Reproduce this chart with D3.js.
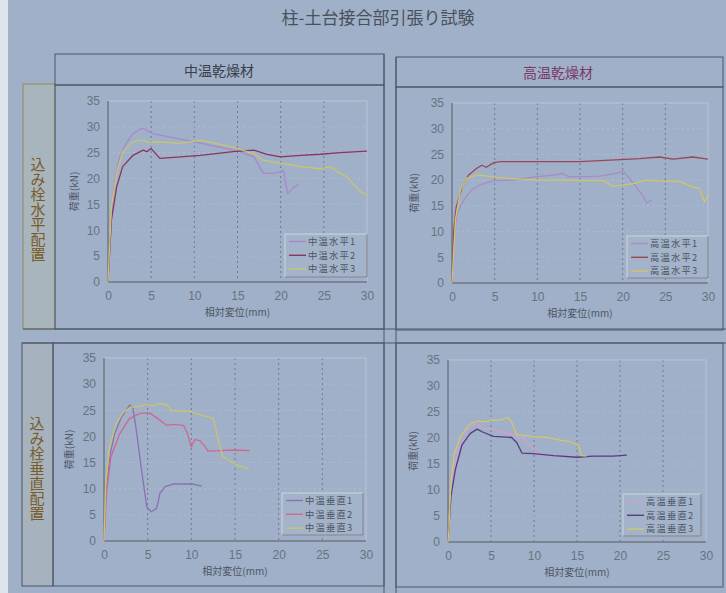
<!DOCTYPE html>
<html><head><meta charset="utf-8">
<script src="https://cdn.jsdelivr.net/npm/d3@7"></script>
<style>body{margin:0;background:#9fb0c8;overflow:hidden}</style>
</head><body><svg id="c" width="726" height="593"></svg>
<script>
// ---------- data ----------
const title = "柱-土台接合部引張り試験";
const colHeaders = ["中温乾燥材", "高温乾燥材"];
const rowHeaders = ["込み栓水平配置", "込み栓垂直配置"];
const xTicks = [0, 5, 10, 15, 20, 25, 30];
const yTicks = [0, 5, 10, 15, 20, 25, 30, 35];
const xLabel = "相対変位(mm)";
const yLabel = "荷重(kN)";

const labelsTL = ["中温水平1", "中温水平2", "中温水平3"];
const labelsTR = ["高温水平1", "高温水平2", "高温水平3"];
const labelsBL = ["中温垂直1", "中温垂直2", "中温垂直3"];
const labelsBR = ["高温垂直1", "高温垂直2", "高温垂直3"];

// 中温水平
const tl1 = [[0,0],[0.4,13],[0.8,19.7],[1.36,24.2],[2.1,26.8],[2.9,28.7],[3.7,29.5],[4.07,29.7],[5.2,28.7],[10,27.1],[15.1,25.3],[16.9,24.2],[18,21],[19.6,21.1],[20.3,21.6],[20.8,17.1],[21.3,18],[22.1,18.9]];
const tl2 = [[0,0],[0.4,12],[1,18.4],[1.7,22.3],[2.9,24.5],[4.07,25.5],[4.5,25.2],[5,25.8],[6,23.9],[7.6,24.1],[10.7,24.5],[14.5,25.2],[16.9,25.5],[18.4,24.7],[20,24.2],[22.3,24.5],[24.6,24.7],[26.9,25],[30,25.3]];
const tl3 = [[0,0],[0.4,14.5],[1,21],[1.7,25.2],[2.9,27.1],[3.9,27.5],[4.7,27],[6,27.1],[8.3,26.8],[10.7,27.4],[12.2,26.9],[14.5,26.1],[16.9,24.8],[18,23.5],[20.3,22.9],[22.3,22.3],[24.6,21.9],[25.8,22.3],[26.6,21.3],[27.7,20.3],[28.5,18.7],[29.3,17.4],[30,16.8]];
// 高温水平
const tr1 = [[0,0],[0.2,8.4],[0.6,13.6],[1.4,16.2],[2.3,18.1],[3.3,19.1],[4.9,19.9],[7.2,20],[9.9,20.7],[11.9,21],[13,21.3],[13.6,20.7],[15.8,20.7],[17.3,20.8],[18.9,21.2],[20.1,21.7],[21.2,19.5],[22.4,16.9],[22.8,15.5],[23.4,16.1]];
const tr2 = [[0,0],[0.2,10.3],[0.5,14.8],[1.2,18.7],[1.95,21],[2.9,22.3],[3.5,22.9],[4,22.5],[4.9,23.4],[5.65,23.6],[8,23.6],[10.3,23.6],[15,23.6],[19.7,24],[22,24.2],[24.3,24.5],[25.9,24.1],[28.2,24.5],[30,24.1]];
const tr3 = [[0,0],[0.4,12.3],[1,18.1],[1.75,20.4],[2.9,21],[4.1,20.8],[5.65,20.5],[8,20.2],[10.3,20],[13.4,20],[16.6,19.9],[17.7,19.9],[18.9,18.8],[19.7,19],[21.2,19.3],[22.8,20],[24.3,19.8],[26.7,19.7],[28.2,18.7],[29,18.4],[29.6,15.8],[30,17.1]];
// 中温垂直
const bl1 = [[0,0],[0.2,8.4],[0.65,16.1],[1.2,20.5],[2,23.7],[2.95,26],[3.3,25.5],[3.7,21.2],[4.3,13.5],[4.9,6.5],[5.4,5.6],[6,6.2],[6.2,7.5],[6.4,9.1],[7,10.4],[7.9,10.9],[10.2,10.9],[11.2,10.5]];
const bl2 = [[0,0],[0.3,9.6],[0.8,16.1],[1.8,20.5],[2.9,23.4],[4.1,24.4],[5.2,24.5],[6,23.6],[7.2,22.1],[7.9,22.3],[9.1,22.1],[9.5,20.8],[10,18],[10.4,19.4],[11,19.2],[11.6,18],[11.9,17.2],[13.3,17.3],[14.8,17.4],[16.7,17.3]];
const bl3 = [[0,0],[0.2,11],[0.65,18],[1.4,22.5],[2.2,24.6],[3.1,25.6],[4.1,25.7],[4.9,26.2],[5.6,25.8],[6.4,26.3],[7.3,26],[7.7,24.9],[8.7,24.9],[9.8,24.8],[11,24.1],[12.5,23.5],[13.1,19.3],[13.6,16.1],[14.4,15.4],[15.2,14.5],[16,14.1],[16.6,13.7]];
// 高温垂直
const br1 = [[0,0],[0.3,10],[0.66,13.8],[1.24,18.1],[2.2,21.7],[3.2,22.8],[4.1,21.9],[5.7,21.4],[7.6,20.6],[8.8,19.8],[9.6,18.5],[10.3,17.1],[11.5,16.8],[13,16.5],[13.6,16.1]];
const br2 = [[0,0],[0.35,8.8],[0.85,13.9],[1.63,18.7],[2.6,20.9],[3.4,21.7],[3.95,21.2],[5.3,20.3],[7.4,20.1],[8,19.1],[8.6,17.1],[9.9,17],[12.3,16.6],[15,16.3],[16.9,16.5],[19.2,16.5],[20.8,16.7]];
const br3 = [[0,0],[0.1,2.2],[0.35,11.9],[0.74,17],[1.43,20.2],[2.4,22.5],[3.4,23.3],[4.1,23.1],[5.1,23.4],[6.1,23.5],[7,23.9],[7.4,23.1],[7.6,22.2],[8,20.6],[9.9,20.3],[11.5,20.1],[13,19.6],[14.2,19.3],[15.2,18.5],[15.5,16.6],[16.1,16.5]];

// ---------- drawing ----------
const svg = d3.select("#c");
const CJK = "'Noto Sans CJK JP','Noto Sans CJK SC',sans-serif";
const NUM = "'Liberation Sans',Arial,sans-serif";

svg.append("rect").attr("width",726).attr("height",593).attr("fill","#9fb0c8");
svg.append("rect").attr("width",8).attr("height",593).attr("fill","#dfe4ec");

// title
svg.append("text").attr("x",378).attr("y",24).attr("text-anchor","middle")
  .attr("font-family",CJK).attr("font-size",17).attr("fill","#4a505c").text(title);

// row label box fills
svg.append("rect").attr("x",23).attr("y",84).attr("width",32).attr("height",245).attr("fill","#a8b5bc");
svg.append("rect").attr("x",22).attr("y",343).attr("width",31).attr("height",243).attr("fill","#a6b3be");

// frames
const frame = svg.append("g").attr("fill","none").attr("stroke","#4e5664").attr("stroke-width",1);
frame.append("rect").attr("x",23).attr("y",84).attr("width",32).attr("height",245).attr("stroke","#8e8a5a");
frame.append("rect").attr("x",22).attr("y",343).attr("width",31).attr("height",243);
frame.append("rect").attr("x",55).attr("y",54).attr("width",329).attr("height",31);
frame.append("rect").attr("x",396).attr("y",57).attr("width",327).attr("height",30);
frame.append("rect").attr("x",55).attr("y",85).attr("width",329).attr("height",244);
frame.append("rect").attr("x",396).attr("y",87).attr("width",327).attr("height",243);
frame.append("rect").attr("x",53).attr("y",343).attr("width",331).attr("height",243);
frame.append("rect").attr("x",396).attr("y",343).attr("width",327).attr("height",244);
frame.append("line").attr("x1",384).attr("x2",384).attr("y1",54).attr("y2",593);
frame.append("line").attr("x1",396).attr("x2",396).attr("y1",57).attr("y2",593);
frame.append("line").attr("x1",22).attr("x2",726).attr("y1",343).attr("y2",343);
frame.append("line").attr("x1",23).attr("x2",726).attr("y1",329).attr("y2",329);

// headers
svg.append("text").attr("x",219).attr("y",76).attr("text-anchor","middle")
  .attr("font-family",CJK).attr("font-size",14).attr("fill","#3a3f4a").text(colHeaders[0]);
svg.append("text").attr("x",558).attr("y",78).attr("text-anchor","middle")
  .attr("font-family",CJK).attr("font-size",14).attr("fill","#7a3a68").text(colHeaders[1]);

// row headers (vertical)
[[38,209,rowHeaders[0]],[37,468,rowHeaders[1]]].forEach(([x,y,t])=>{
  svg.append("text").attr("x",x).attr("y",y).attr("text-anchor","middle")
    .attr("writing-mode","vertical-rl").attr("font-family",CJK).attr("font-size",15)
    .attr("fill","#7a5c28").text(t);
});

function panel(cfg){
  const x = d3.scaleLinear().domain([0,30]).range([cfg.x0,cfg.x1]);
  const y = d3.scaleLinear().domain([0,35]).range([cfg.y1,cfg.y0]);
  const g = svg.append("g");
  // grid
  g.append("g").selectAll("line").data(xTicks.slice(1,-1)).join("line")
    .attr("x1",d=>x(d)).attr("x2",d=>x(d)).attr("y1",cfg.y0).attr("y2",cfg.y1)
    .attr("stroke","#656c7c").attr("stroke-width",0.8).attr("stroke-dasharray","2,3");
  g.append("g").selectAll("line").data(yTicks.slice(1,-1)).join("line")
    .attr("x1",cfg.x0).attr("x2",cfg.x1).attr("y1",d=>y(d)).attr("y2",d=>y(d))
    .attr("stroke","#b6c0d2").attr("stroke-width",0.7).attr("stroke-dasharray","2,3");
  // plot frame
  g.append("rect").attr("x",cfg.x0).attr("y",cfg.y0).attr("width",cfg.x1-cfg.x0).attr("height",cfg.y1-cfg.y0)
    .attr("fill","none").attr("stroke","#c4cad6").attr("stroke-width",0.8);
  g.append("path").attr("d",`M${cfg.x0},${cfg.y0}V${cfg.y1}H${cfg.x1}`)
    .attr("fill","none").attr("stroke","#4a505c").attr("stroke-width",1);
  // axes
  const ax = g.append("g").attr("transform",`translate(0,${cfg.y1})`)
    .call(d3.axisBottom(x).tickValues(xTicks).tickSize(0).tickPadding(9));
  const ay = g.append("g").attr("transform",`translate(${cfg.x0},0)`)
    .call(d3.axisLeft(y).tickValues(yTicks).tickSize(0).tickPadding(8));
  [ax,ay].forEach(a=>{
    a.select(".domain").remove();
    a.selectAll("text").attr("font-family",NUM).attr("font-size",12).attr("fill","#6a7282");
  });
  // axis labels
  g.append("text").attr("x",(cfg.x0+cfg.x1)/2).attr("y",cfg.y1+34).attr("text-anchor","middle")
    .attr("font-family",CJK).attr("font-size",10).attr("fill","#4e5462").text(xLabel);
  g.append("text").attr("transform",`translate(${cfg.yl},${(cfg.y0+cfg.y1)/2}) rotate(-90)`)
    .attr("text-anchor","middle").attr("dy","0.35em")
    .attr("font-family",CJK).attr("font-size",10).attr("fill","#4e5462").text(yLabel);
  // lines
  const line = d3.line().x(d=>x(d[0])).y(d=>y(d[1]));
  cfg.series.forEach((s,i)=>{
    g.append("path").datum(s).attr("d",line).attr("fill","none")
      .attr("stroke",cfg.colors[i]).attr("stroke-width",1.3).attr("stroke-linejoin","round");
  });
  // legend
  const [lx,ly,lw,lh] = cfg.legend;
  g.append("rect").attr("x",lx).attr("y",ly).attr("width",lw).attr("height",lh)
    .attr("fill","#a3b3ca").attr("stroke","#d4d9e2").attr("stroke-width",0.9);
  g.append("path").attr("d",`M${lx},${ly+lh}H${lx+lw}V${ly}`).attr("fill","none").attr("stroke","#5a6070").attr("stroke-width",0.8);
  cfg.labels.forEach((t,i)=>{
    const yy = ly + 7.5 + i*13.8;
    g.append("line").attr("x1",lx+4).attr("x2",lx+21).attr("y1",yy).attr("y2",yy)
      .attr("stroke",cfg.colors[i]).attr("stroke-width",1.4);
    g.append("text").attr("x",lx+23).attr("y",yy).attr("dy","0.36em")
      .attr("font-family",CJK).attr("font-size",9.3).attr("letter-spacing",1.2)
      .attr("fill","#4e5462").text(t);
  });
}

panel({x0:108,x1:367,y0:101,y1:282,yl:74,series:[tl1,tl2,tl3],labels:labelsTL,
  colors:["#a888cc","#8a3460","#c8c66a"],legend:[285,234,82,43]});
panel({x0:452,x1:708,y0:103,y1:283,yl:414,series:[tr1,tr2,tr3],labels:labelsTR,
  colors:["#a68cc8","#9a4858","#d0c46a"],legend:[627,236,81,42]});
panel({x0:104,x1:366,y0:358,y1:541,yl:69,series:[bl1,bl2,bl3],labels:labelsBL,
  colors:["#8a70b4","#d06890","#c8c66a"],legend:[282,493,81,42]});
panel({x0:448,x1:706,y0:360,y1:542,yl:413,series:[br1,br2,br3],labels:labelsBR,
  colors:["#d2a0cc","#5a3a80","#d0c86a"],legend:[623,494,78,42]});
</script></body></html>
